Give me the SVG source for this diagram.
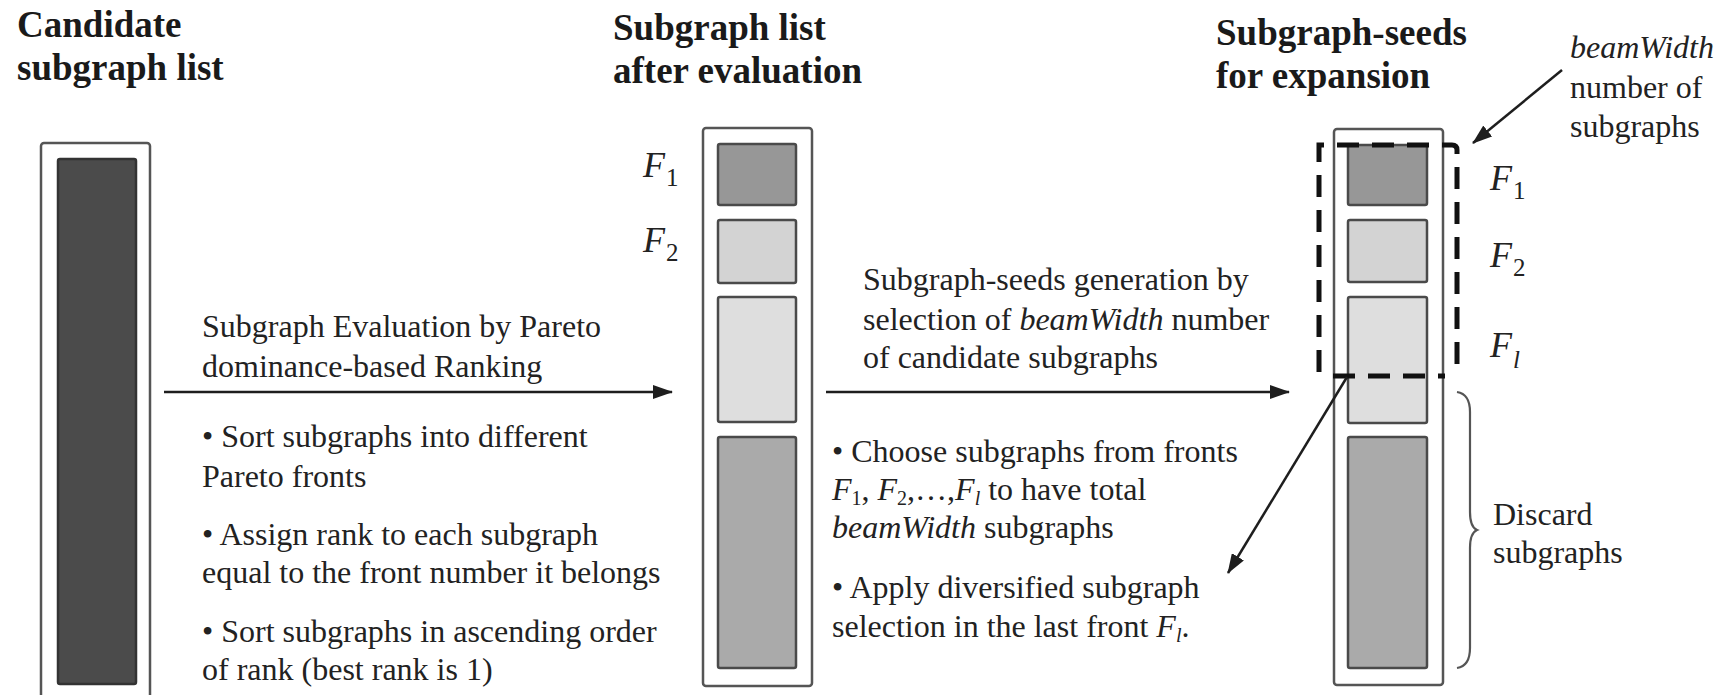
<svg xmlns="http://www.w3.org/2000/svg" width="1728" height="695" viewBox="0 0 1728 695">
  <style>
    text { font-family: "Liberation Serif", "Times New Roman", serif; fill: #222; }
    .title { font-size: 37px; font-weight: bold; fill: #1a1a1a; }
    .body { font-size: 32px; }
    .flabel { font-size: 36px; font-style: italic; }
    .fsub { font-size: 25px; font-style: normal; }
    .sub { font-size: 20px; }
    .it { font-style: italic; }
    .outer { fill: #fff; stroke: #555; stroke-width: 2.5; }
    .cell { stroke: #4a4a4a; stroke-width: 2.5; }
    .dark { fill: #4b4b4b; stroke: #333; }
    .f1 { fill: #979797; }
    .f2 { fill: #d3d3d3; }
    .f3 { fill: #dedede; }
    .rest { fill: #aaaaaa; }
    .conn { stroke: #1e1e1e; stroke-width: 2.5; fill: none; }
    .sel { stroke: #111; stroke-width: 5; fill: none; stroke-dasharray: 22 13; }
  </style>
  <defs>
    <marker id="arrow" viewBox="0 0 20 14" refX="19" refY="7" markerWidth="20" markerHeight="14" markerUnits="userSpaceOnUse" orient="auto">
      <path d="M0,0 L20,7 L0,14 Z" fill="#1e1e1e"/>
    </marker>
  </defs>

  <!-- column headings -->
  <g id="headings">
    <text class="title" x="17" y="37">Candidate</text>
    <text class="title" x="17" y="80">subgraph list</text>
    <text class="title" x="613" y="40">Subgraph list</text>
    <text class="title" x="613" y="83">after evaluation</text>
    <text class="title" x="1216" y="45">Subgraph-seeds</text>
    <text class="title" x="1216" y="88">for expansion</text>
  </g>

  <!-- unsorted candidate list -->
  <g id="candidate-list">
    <rect class="outer" x="41" y="143" width="109" height="570" rx="3"/>
    <rect class="cell dark" x="58" y="159" width="78" height="525" rx="2"/>
  </g>

  <!-- list ranked into Pareto fronts -->
  <g id="evaluated-list">
    <rect class="outer" x="703" y="128" width="109" height="558" rx="3"/>
    <rect class="cell f1" x="718" y="144" width="78" height="61" rx="2"/>
    <rect class="cell f2" x="718" y="220" width="78" height="63" rx="2"/>
    <rect class="cell f3" x="718" y="297" width="78" height="125" rx="2"/>
    <rect class="cell rest" x="718" y="437" width="78" height="231" rx="2"/>
    <text class="flabel" x="643" y="177">F<tspan class="fsub" dx="1" dy="9">1</tspan></text>
    <text class="flabel" x="643" y="252">F<tspan class="fsub" dx="1" dy="9">2</tspan></text>
  </g>

  <!-- seeds picked for expansion -->
  <g id="seed-list">
    <rect class="outer" x="1334" y="129" width="109" height="556" rx="3"/>
    <rect class="cell f1" x="1348" y="145" width="79" height="60" rx="2"/>
    <rect class="cell f2" x="1348" y="220" width="79" height="62" rx="2"/>
    <rect class="cell f3" x="1348" y="297" width="79" height="126" rx="2"/>
    <rect class="cell rest" x="1348" y="437" width="79" height="231" rx="2"/>
    <path class="sel" d="M1319,372 L1319,145 L1452,145 Q1457,145 1457,150 L1457,372"/>
    <path class="sel" d="M1333,376 L1445,376"/>
    <text class="flabel" x="1490" y="190">F<tspan class="fsub" dx="1" dy="9">1</tspan></text>
    <text class="flabel" x="1490" y="267">F<tspan class="fsub" dx="1" dy="9">2</tspan></text>
    <text class="flabel" x="1490" y="357">F<tspan class="fsub it" dx="1" dy="11">l</tspan></text>
  </g>

  <!-- beamWidth note -->
  <g id="beamwidth-note">
    <text class="body" x="1570" y="58"><tspan class="it">beamWidth</tspan></text>
    <text class="body" x="1570" y="98">number of</text>
    <text class="body" x="1570" y="137">subgraphs</text>
  </g>

  <!-- discarded part of the list -->
  <g id="discard-note">
    <path d="M1457,392 Q1470,394 1470,412 L1470,512 Q1470,527 1477,530 Q1470,533 1470,548 L1470,648 Q1470,666 1457,668" fill="none" stroke="#555" stroke-width="2.2"/>
    <text class="body" x="1493" y="525">Discard</text>
    <text class="body" x="1493" y="563">subgraphs</text>
  </g>

  <!-- step 1 description -->
  <g id="evaluation-step">
    <text class="body" x="202" y="337">Subgraph Evaluation by Pareto</text>
    <text class="body" x="202" y="377">dominance-based Ranking</text>
    <text class="body" x="202" y="447">• Sort subgraphs into different</text>
    <text class="body" x="202" y="487">Pareto fronts</text>
    <text class="body" x="202" y="545">• Assign rank to each subgraph</text>
    <text class="body" x="202" y="583">equal to the front number it belongs</text>
    <text class="body" x="202" y="642">• Sort subgraphs in ascending order</text>
    <text class="body" x="202" y="680">of rank (best rank is 1)</text>
  </g>

  <!-- step 2 description -->
  <g id="selection-step">
    <text class="body" x="863" y="290">Subgraph-seeds generation by</text>
    <text class="body" x="863" y="330">selection of <tspan class="it">beamWidth</tspan> number</text>
    <text class="body" x="863" y="368">of candidate subgraphs</text>
    <text class="body" x="832" y="462">• Choose subgraphs from fronts</text>
    <text class="body" x="832" y="500"><tspan class="it">F</tspan><tspan class="sub" dy="5">1</tspan><tspan dy="-5">, </tspan><tspan class="it">F</tspan><tspan class="sub" dy="5">2</tspan><tspan dy="-5">,…,</tspan><tspan class="it">F</tspan><tspan class="sub it" dy="5">l</tspan><tspan dy="-5"> to have total</tspan></text>
    <text class="body" x="832" y="538"><tspan class="it">beamWidth</tspan> subgraphs</text>
    <text class="body" x="832" y="598">• Apply diversified subgraph</text>
    <text class="body" x="832" y="637">selection in the last front <tspan class="it">F</tspan><tspan class="sub it" dy="5">l</tspan><tspan dy="-5">.</tspan></text>
  </g>

  <!-- connectors -->
  <g id="connectors">
    <line class="conn" x1="164" y1="392" x2="672" y2="392" marker-end="url(#arrow)"/>
    <line class="conn" x1="826" y1="392" x2="1289" y2="392" marker-end="url(#arrow)"/>
    <line class="conn" x1="1347" y1="377" x2="1228" y2="573" marker-end="url(#arrow)"/>
    <line class="conn" x1="1562" y1="70" x2="1473" y2="143" marker-end="url(#arrow)"/>
  </g>
</svg>
